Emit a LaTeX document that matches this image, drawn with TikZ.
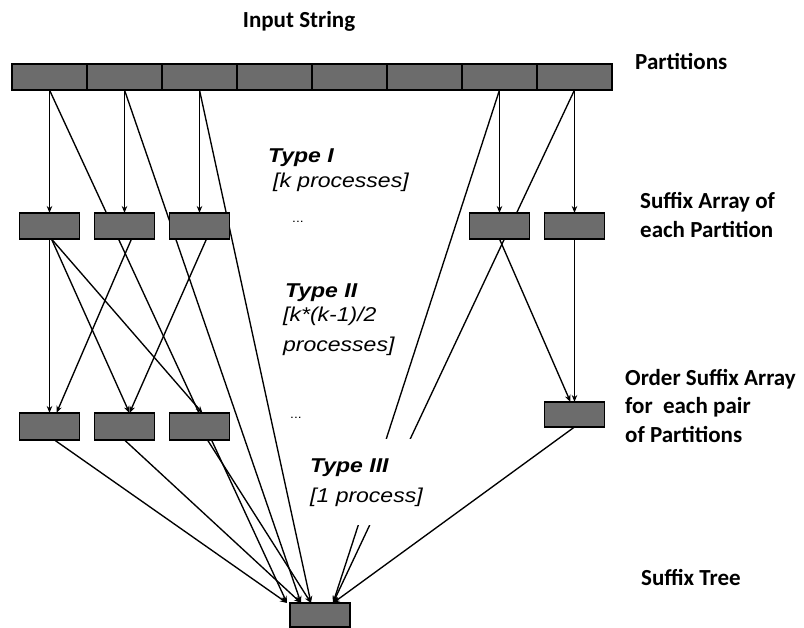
\documentclass[tikz,border=0pt]{standalone}
\usepackage{fontspec}
\setmainfont{Carlito}
\newfontfamily\labfont[FakeStretch=1.15]{Liberation Sans}
\usetikzlibrary{arrows.meta,calc}
\pgfdeclarelayer{bg}
\pgfsetlayers{bg,main}
\definecolor{boxgray}{RGB}{108,108,108}
\begin{document}
\begin{tikzpicture}[x=1pt,y=-1pt,
  box/.style={draw=black, fill=boxgray, line width=1.5pt, inner sep=0pt, outer sep=0pt, minimum width=60pt, minimum height=26pt},
  cell/.style={box, minimum width=75pt},
  conn/.style={line width=1.35pt, -{Stealth[length=7pt,width=5.5pt]}},
  head/.style={font=\fontsize{23}{29}\selectfont\bfseries, inner sep=0pt, anchor=base west, align=left},
  typ/.style={font=\labfont\fontsize{20}{30}\selectfont\bfseries\itshape, inner sep=0pt, anchor=base west, align=left},
  ita/.style={font=\labfont\fontsize{20}{30}\selectfont\itshape, inner sep=0pt, anchor=base west, align=left},
  dots/.style={font=\labfont\fontsize{12}{14}\selectfont, inner sep=0pt, anchor=base west}
]
\useasboundingbox (0,0) rectangle (804,628);
% partitions
\foreach \i in {1,...,8} \node[cell] (c\i) at ({49.5+75*(\i-1)},77) {};
% suffix arrays
\node[box] (s1) at (49.5,226) {};
\node[box] (s2) at (124.5,226) {};
\node[box] (s3) at (199.5,226) {};
\node[box] (s4) at (499.5,226) {};
\node[box] (s5) at (574.5,226) {};
% ordered suffix arrays
\node[box, minimum height=27pt] (o1) at (49.5,426.5) {};
\node[box, minimum height=27pt] (o2) at (124.5,426.5) {};
\node[box, minimum height=27pt] (o3) at (199.5,426.5) {};
\node[box, minimum height=25pt] (o4) at (574.5,414.5) {};
% suffix tree
\node[box, minimum height=24pt] (st) at (320,615) {};
\coordinate (t1) at ($(st.north)+(-33,0)$);
\coordinate (t2) at ($(st.north)+(-19,0)$);
\coordinate (t3) at ($(st.north)+(-9,0)$);
\coordinate (t4) at ($(st.north)+(13,0)$);
% labels
\node[head, anchor=base] (lin) at (299,28) {Input String};
\node[head] (lpart) at (635,70) {Partitions};
\node[head] (lsa) at (640,238) {Suffix Array of\\each Partition};
\node[head] (losa) at (625,443) {Order Suffix Array\\for\ \ each pair\\of Partitions};
\node[head] (lst) at (641,585) {Suffix Tree};
\node[typ] (ty1) at (268,163) {Type I};
\node[ita] (ty1b) at (273,188) {[k processes]};
\node[dots] (d1) at (292,223) {...};
\node[typ] (ty2) at (285,298) {Type II};
\node[ita] (ty2b) at (283,352) {[k*(k-1)/2\\processes]};
\node[dots] (d2) at (290,419) {...};
\node[typ, fill=white, inner xsep=3pt, inner ysep=19pt] (ty3) at (307,502) {Type III\\\mdseries[1 process]};
% connectors
\begin{pgfonlayer}{bg}
\foreach \a/\b in {c1/s1,c2/s2,c3/s3,c7/s4,c8/s5} \draw[conn] (\a.south) -- (\b.north);
\draw[conn] (c1.south) -- (t1);
\draw[conn] (c2.south) -- (t2);
\draw[conn] (c3.south) -- (t3);
\draw[conn] (c7.south) -- (t4);
\draw[conn] (c8.south) -- (t4);
\draw[conn] (s1.south) -- (o1.north);
\draw[conn] ($(s2.south)+(7,0)$) -- ($(o1.north)+(7,0)$);
\draw[conn] ($(s1.south)+(2,0)$) -- ($(o2.north)+(5,0)$);
\draw[conn] ($(s3.south)+(7,0)$) -- ($(o2.north)+(5,0)$);
\draw[conn] ($(s1.south)+(2,0)$) -- ($(o3.north)+(3,0)$);
\draw[conn] (s4.south) -- ($(o4.north)+(-4,0)$);
\draw[conn] (s5.south) -- (o4.north);
\draw[conn] ($(o1.south)+(5,0)$) -- (t1);
\draw[conn] (o2.south) -- (t2);
\draw[conn] ($(o3.south)+(8,0)$) -- (t3);
\draw[conn] (o4.south) -- (t4);
\end{pgfonlayer}
\end{tikzpicture}
\end{document}
